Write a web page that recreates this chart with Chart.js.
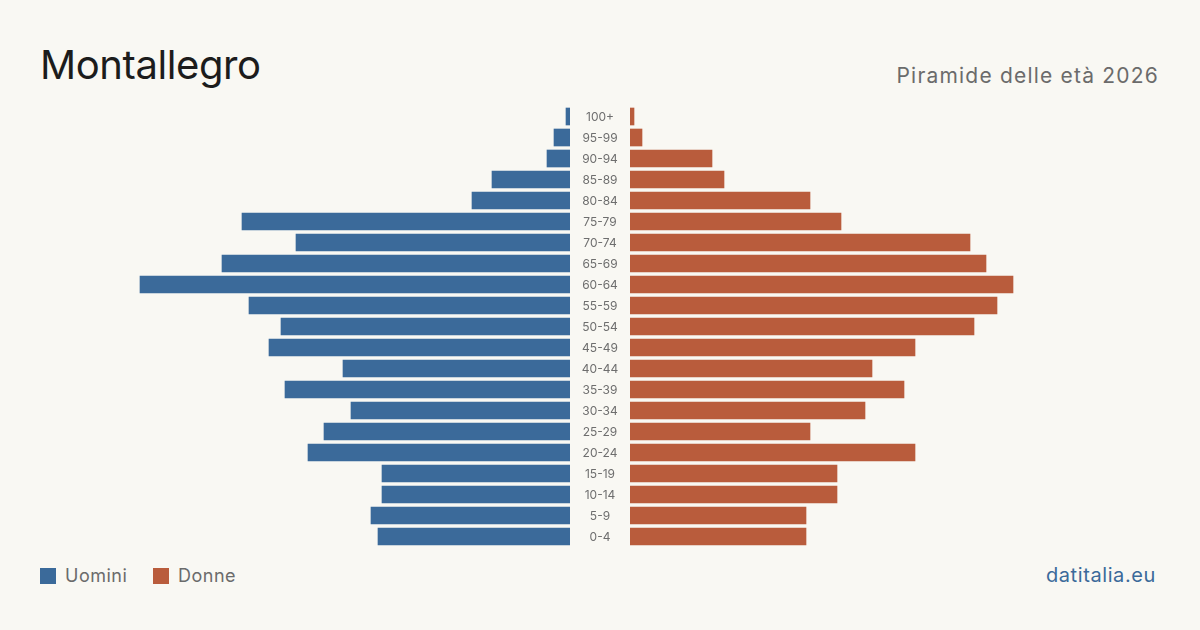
<!DOCTYPE html>
<html>
<head>
<meta charset="utf-8">
<script src="https://cdn.jsdelivr.net/npm/chart.js@4.4.1/dist/chart.umd.min.js"></script>
<style>
  html, body { margin: 0; padding: 0; }
  body { width: 1200px; height: 630px; background: #f9f8f3; position: relative; overflow: hidden; font-family: Inter, "Noto Sans", sans-serif; }
  #title { position: absolute; left: 40px; top: 40px; font-size: 40px; color: #1c1c1c; font-weight: 400; letter-spacing: -0.4px; line-height: 50px; }
  #subtitle { position: absolute; right: 41px; top: 62px; font-size: 21px; color: #6b6b6b; line-height: 28px; letter-spacing: 1.2px; }
  .leg { position: absolute; top: 565px; font-size: 18px; color: #6b6b6b; line-height: 22px; letter-spacing: 0.5px; }
  .sw { display: inline-block; width: 16px; height: 16px; vertical-align: -2px; margin-right: 9px; }
  #brand { position: absolute; right: 44px; top: 563px; font-size: 20px; color: #3b6a9a; line-height: 24px; letter-spacing: 0.6px; }
  #left { position: absolute; left: 0; top: 106px; }
  #right { position: absolute; left: 570px; top: 106px; }
</style>
</head>
<body>
<div id="title">Montallegro</div>
<div id="subtitle">Piramide delle età 2026</div>
<div class="leg" style="left:40px"><span class="sw" style="background:#3b6a9a"></span>Uomini</div>
<div class="leg" style="left:153px"><span class="sw" style="background:#b95c3c"></span>Donne</div>
<div id="brand">datitalia.eu</div>
<div id="left"><canvas id="cl" width="570" height="441"></canvas></div>
<div id="right"><canvas id="cr" width="630" height="441"></canvas></div>
<script>
const ageGroups = ["100+","95-99","90-94","85-89","80-84","75-79","70-74","65-69","60-64","55-59","50-54","45-49","40-44","35-39","30-34","25-29","20-24","15-19","10-14","5-9","0-4"];
const men   = [4,16,23,78,98,328,274,348,430,321,289,301,227,285,219,246,262,188,188,199,192];
const women = [4,12,82,94,180,211,340,356,383,367,344,285,242,274,235,180,285,207,207,176,176];
const maxValue = 530;
const menColor = "#3b6a9a";
const womenColor = "#b95c3c";

const common = {
  responsive: false,
  animation: false,
  indexAxis: 'y',
  plugins: { legend: { display: false }, tooltip: { enabled: false } },
};

// draws the age-group labels in the central gap, positioned by the y scale
const centerLabels = {
  id: 'centerLabels',
  afterDraw(chart) {
    const ctx = chart.ctx;
    const ys = chart.scales.y;
    const x = chart.chartArea.left - 30;
    ctx.save();
    ctx.font = '12px Inter, "Noto Sans", sans-serif';
    ctx.fillStyle = '#6e6e6e';
    ctx.textAlign = 'center';
    ctx.textBaseline = 'middle';
    chart.data.labels.forEach((lab, i) => {
      ctx.fillText(lab, x, ys.getPixelForValue(i) + 1);
    });
    ctx.restore();
  }
};

new Chart(document.getElementById('cl'), {
  type: 'bar',
  data: { labels: ageGroups, datasets: [{ data: men, backgroundColor: menColor, barThickness: 17, borderWidth: 0 }] },
  options: Object.assign({}, common, {
    layout: { padding: { left: 40, right: 0, top: 0, bottom: 0 } },
    scales: {
      x: { display: false, reverse: true, min: 0, max: maxValue },
      y: { display: false }
    }
  })
});

new Chart(document.getElementById('cr'), {
  type: 'bar',
  data: { labels: ageGroups, datasets: [{ data: women, backgroundColor: womenColor, barThickness: 17, borderWidth: 0 }] },
  options: Object.assign({}, common, {
    layout: { padding: { left: 60, right: 40, top: 0, bottom: 0 } },
    scales: {
      x: { display: false, min: 0, max: maxValue },
      y: { display: false }
    }
  }),
  plugins: [centerLabels]
});
</script>
</body>
</html>
